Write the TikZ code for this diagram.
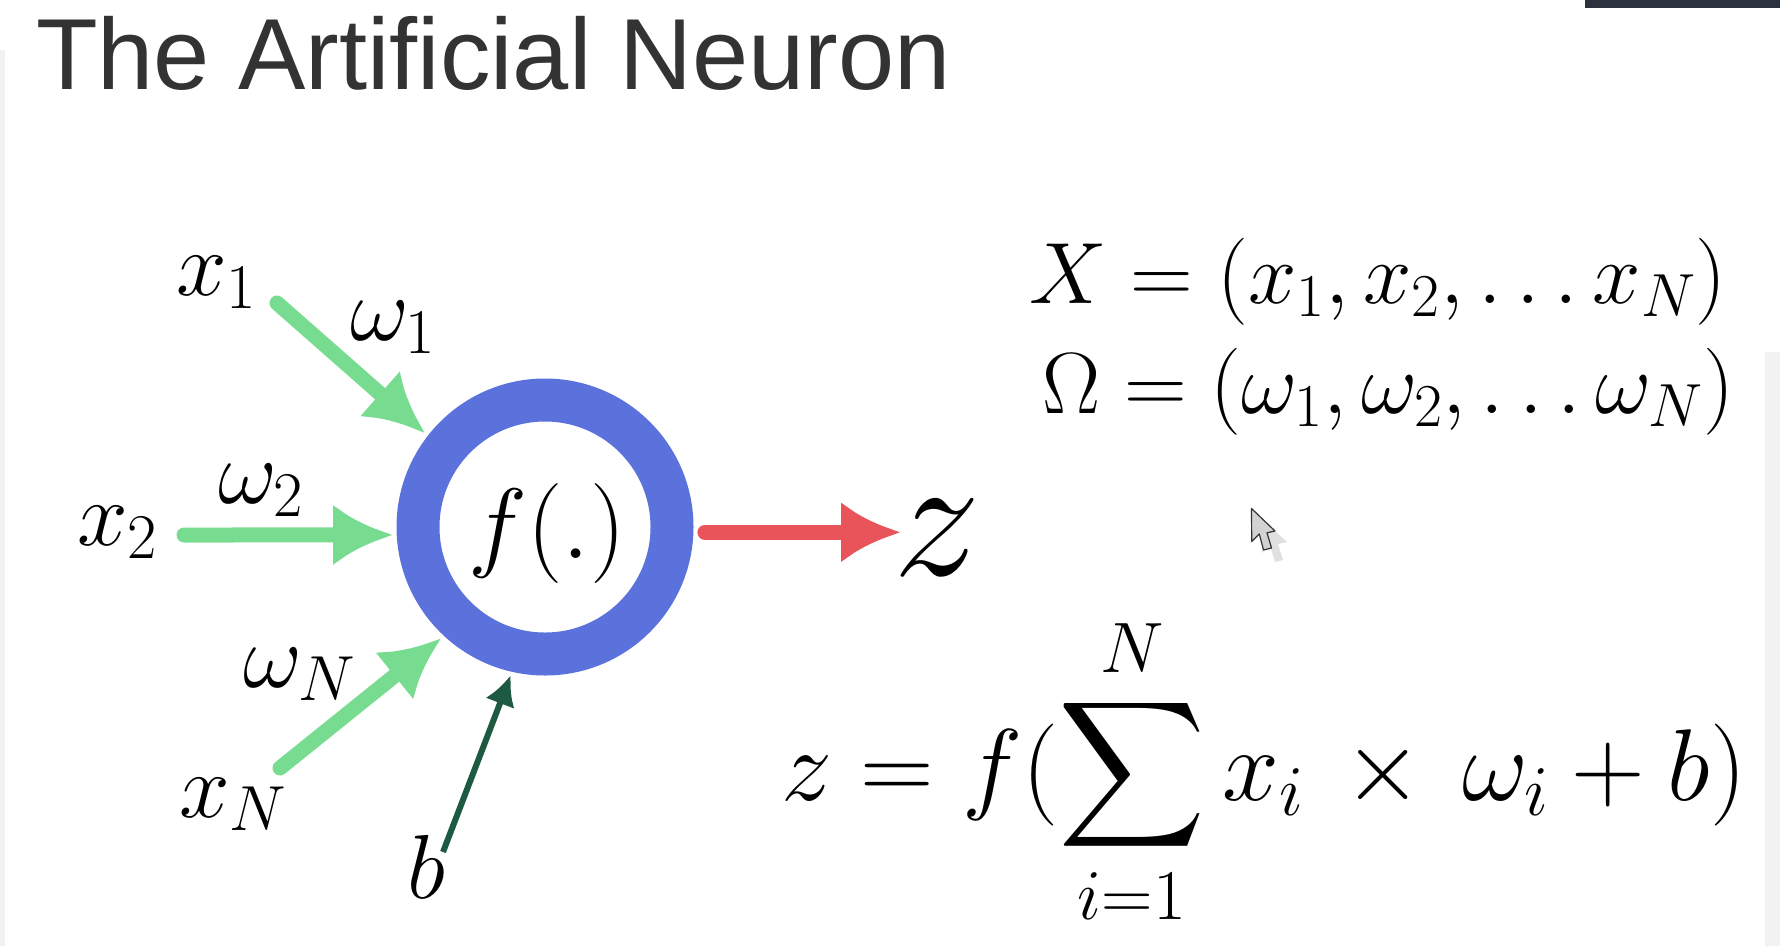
\RequirePackage{fix-cm}
\documentclass[tikz,border=0pt]{standalone}
\DeclareFontShape{OMX}{cmex}{m}{n}{<->cmex10}{}
\DeclareSymbolFont{largesymbols}{OMX}{cmex}{m}{n}
\usepackage[no-math]{fontspec}
\newfontfamily\titlefont{Liberation Sans}
\usetikzlibrary{arrows.meta}
\definecolor{ringblue}{HTML}{5B72DD}
\definecolor{ingreen}{HTML}{78DC90}
\definecolor{outred}{HTML}{E8545A}
\definecolor{biasgreen}{HTML}{1E5A42}
\definecolor{titlegray}{HTML}{333333}
\definecolor{barnavy}{HTML}{2B323D}
\definecolor{edgegray}{HTML}{F2F2F2}
\begin{document}
\begin{tikzpicture}[x=1pt,y=-1pt,
  lbl/.style={inner sep=0pt, outer sep=0pt, anchor=base west},
  lblfont/.style={font=\fontsize{91}{100}\selectfont},
  inarrow/.style={draw=ingreen, line width=15pt, line cap=round, -{Latex[length=60pt,width=61pt]}},
  outarrow/.style={draw=outred, line width=15pt, line cap=round, -{Latex[length=60pt,width=61pt]}},
  biasarrow/.style={draw=biasgreen, line width=6pt, -{Latex[length=30pt,width=31pt]}}]
\useasboundingbox (0,0) rectangle (1780,946);
\fill[white] (0,0) rectangle (1780,946);
% screen edges
\fill[edgegray] (0,50) rectangle (5,946);
\fill[edgegray] (1765,352) rectangle (1780,946);
\fill[barnavy] (1585,0) rectangle (1780,8);
% title
\node[lbl, text=titlegray, font=\titlefont\fontsize{101}{110}\selectfont] (title) at (36,89) {The Artificial Neuron};
% neuron
\node[circle, draw=ringblue, line width=43pt, minimum size=254pt, inner sep=0pt, outer sep=25pt] (n) at (545,527) {};
\node[inner sep=0pt] (fl) at (547,533) {\fontsize{100}{120}\selectfont $f(.)$};
% input labels
\node[lbl, lblfont] (x1) at (176,295) {$x_1$};
\node[lbl, lblfont] (w1) at (350,340) {$\omega_1$};
\node[lbl, lblfont] (x2) at (77,545) {$x_2$};
\node[lbl, lblfont] (w2) at (218,503) {$\omega_2$};
\node[lbl, lblfont] (wN) at (243,687) {$\omega_N$};
\node[lbl, lblfont] (xN) at (179,817) {$x_N$};
\node[lbl, lblfont] (b) at (407,898) {$b$};
\node[lbl, font=\fontsize{175}{190}\selectfont] (Z) at (893,575) {$z$};
% free ends of the connectors
\coordinate (s1) at (277,303);
\coordinate (s2) at (184,535);
\coordinate (sN) at (280,768);
\coordinate (sb) at (443,852);
% connectors
\draw[inarrow] (s1) -- (n.142);
\draw[inarrow] (s2) -- (n.183);
\draw[inarrow] (sN) -- (n.227);
\draw[biasarrow] (sb) -- (n.257);
\draw[outarrow] ([xshift=8pt]n.-2) -- ([xshift=8pt]n.-2 -| Z.west);
% equations
\node[lbl, font=\fontsize{87}{100}\selectfont] (eqx) at (1029,303) {$X = (x_1, x_2, \ldots x_N)$};
\node[lbl, font=\fontsize{87}{100}\selectfont] (eqo) at (1042,413) {$\Omega = (\omega_1, \omega_2, \ldots \omega_N)$};
\node[lbl, font=\fontsize{102}{120}\selectfont] (eqz) at (781,800) {$\displaystyle z = f(\sum_{i=1}^{N} x_i \,\times\, \omega_i + b)$};
% mouse pointer
\fill[black, opacity=0.12] (1262,519) -- (1262,553) -- (1270,545) -- (1275,562) -- (1283,560) -- (1278,544) -- (1287,542) -- cycle;
\draw[fill=gray!35, draw=black!80, line width=1.2pt, line join=round] (1251.5,508.5) -- (1251.7,541.5) -- (1259.3,534) -- (1263.5,550) -- (1271.5,548) -- (1267,532.8) -- (1275,531) -- cycle;
\end{tikzpicture}
\end{document}
